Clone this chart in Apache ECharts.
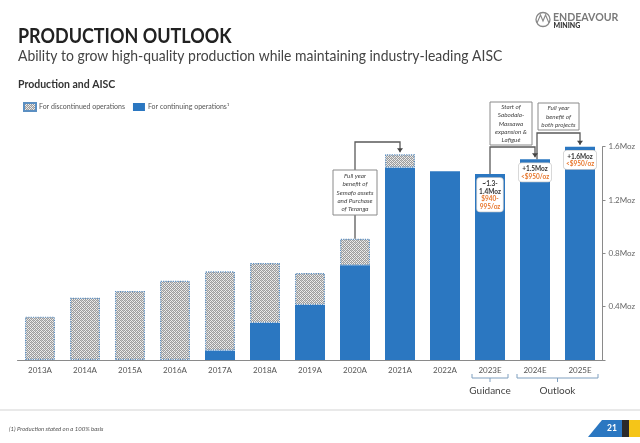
<!DOCTYPE html>
<html>
<head>
<meta charset="utf-8">
<script src="https://cdn.jsdelivr.net/npm/echarts@6/dist/echarts.min.js"></script>
<style>
html,body{margin:0;padding:0;background:#fff;}
#c{width:640px;height:443px;}
</style>
</head>
<body>
<div id="c"></div>
<script>
// ---- data ----
const categories = ['2013A','2014A','2015A','2016A','2017A','2018A','2019A','2020A','2021A','2022A','2023E','2024E','2025E'];
const continuing = [0,0,0,0,0.07,0.278,0.413,0.71,1.443,1.415,1.395,1.505,1.6];
const discontinued = [0.325,0.467,0.518,0.595,0.595,0.45,0.24,0.2,0.1,0,0,0,0];
const yTickValues = [0, 0.4, 0.8, 1.2, 1.6];
const labelCats = ['2023E','2024E','2025E'];
const labelProd = ['~1.3-\n1.4Moz','+1.5Moz','+1.6Moz'];
const labelAisc = ['$940-\n995/oz','<$950/oz','<$950/oz'];
const seriesNames = ['For discontinued operations','For continuing operations\u00B9'];

const FONT = 'Lato, "Open Sans", sans-serif';
const BLUE = '#2b77c1';

// hatch pattern (fine grey weave)
const pc = document.createElement('canvas');
pc.width = 4; pc.height = 4;
const px = pc.getContext('2d');
px.fillStyle = '#ececec'; px.fillRect(0,0,4,4);
px.fillStyle = '#9c9c9c';
for (let y = 0; y < 4; y++) for (let x = 0; x < 4; x++) { if ((x + y) % 2 === 0) px.fillRect(x, y, 1, 1); }
px.fillStyle = '#c4c4c4';
px.fillRect(1,0,1,1); px.fillRect(3,2,1,1);
const hatch = {image: pc, repeat: 'repeat'};

const chart = echarts.init(document.getElementById('c'), null, {renderer:'canvas'});

const contData = continuing.map((v,i)=>{
  if (v === 0) return '-';
  const k = labelCats.indexOf(categories[i]);
  if (k < 0) return v;
  return {
    value: v,
    label: {
      show: true, position: 'insideTop', distance: 4,
      formatter: '{a|' + labelProd[k] + '}\n{b|' + labelAisc[k] + '}',
      backgroundColor: '#ffffff', borderColor: '#d0d0d0', borderWidth: 0.8, borderRadius: 3,
      padding: [2, 2, 1, 2], align: 'center',
      rich: {
        a: {fontFamily: FONT, fontSize: 6.5, fontWeight: 'bold', color: '#333', lineHeight: 7.6, align: 'center'},
        b: {fontFamily: FONT, fontSize: 6.5, fontWeight: 'bold', color: '#e8782e', lineHeight: 7.6, align: 'center'}
      }
    }
  };
});
const discData = discontinued.map(v => v === 0 ? '-' : v);

const option = {
  animation: false,
  backgroundColor: '#ffffff',
  textStyle: {fontFamily: FONT},
  legend: {
    left: 18, top: 97, itemWidth: 12, itemHeight: 8, itemGap: 8,
    icon: 'rect',
    textStyle: {fontSize: 7, color: '#555', fontFamily: FONT, padding: [0,0,0,-2]},
    data: seriesNames
  },
  grid: {left: 17.5, right: 37.5, top: 146.7, bottom: 83, containLabel: false},
  xAxis: {
    type: 'category', data: categories,
    axisLine: {show: true, lineStyle: {color: '#8a8a8a', width: 1}},
    axisTick: {show: false},
    axisLabel: {fontSize: 8, color: '#555', margin: 6, fontFamily: FONT}
  },
  yAxis: {
    type: 'value', position: 'right', min: 0, max: 1.6, interval: 0.4,
    axisLine: {show: true, lineStyle: {color: '#8a8a8a', width: 1}},
    axisTick: {show: true, length: 3, lineStyle: {color: '#8a8a8a'}},
    splitLine: {show: false},
    axisLabel: {
      fontSize: 8, color: '#666', margin: 6, fontFamily: FONT,
      formatter: v => (yTickValues.indexOf(v) > 0 ? v.toFixed(1) + 'Moz' : '')
    }
  },
  series: [
    {
      name: seriesNames[1], type: 'bar', stack: 'p', barWidth: 30,
      itemStyle: {color: BLUE},
      data: contData
    },
    {
      name: seriesNames[0], type: 'bar', stack: 'p', barWidth: 30,
      itemStyle: {color: hatch, borderColor: '#5b8fc2', borderWidth: 1.2, borderType: 'dotted'},
      data: discData
    }
  ]
};
chart.setOption(option);

// ---- annotations positioned via the chart's own scales ----
function cx(cat){ return chart.convertToPixel({xAxisIndex:0}, cat); }
function vy(v){ return chart.convertToPixel({yAxisIndex:0}, v); }
function total(cat){ const i = categories.indexOf(cat); return continuing[i] + discontinued[i]; }

const LINE = {stroke: '#5a5a5a', lineWidth: 1.3, fill: null};
const g = [];

function arrowHead(x, y){
  g.push({type:'polygon', shape:{points:[[x-3,y-4],[x+3,y-4],[x,y]]}, style:{fill:'#444'}, z: 20});
}
function connector(fromCat, toCat, yLevel, dx1, dx2){
  const x1 = cx(fromCat) + (dx1||0), x2 = cx(toCat) + (dx2||0);
  const y1 = vy(total(fromCat)), y2 = vy(total(toCat));
  g.push({type:'polyline', shape:{points:[[x1,y1],[x1,yLevel],[x2,yLevel],[x2,y2-2]]}, style: LINE, z: 18});
  arrowHead(x2, y2-2);
}
function callout(x, y, w, h, lines){
  g.push({type:'rect', shape:{x:x, y:y, width:w, height:h}, style:{fill:'#fff', stroke:'#8a8a8a', lineWidth:1}, z: 21});
  g.push({type:'text', x: x + w/2, y: y + h/2, z: 22, style:{
    text: lines.join('\n'), fontFamily: FONT, fontSize: 6.3, fontStyle: 'italic',
    fill: '#444', align:'center', verticalAlign:'middle', lineHeight: 8.3
  }});
}

connector('2020A','2021A', 142);
connector('2023E','2024E', 147);
connector('2024E','2025E', 133, 2, 0);

callout(cx('2020A')-22, 170, 44, 45, ['Full year','benefit of','Semafo assets','and Purchase','of Teranga']);
callout(cx('2023E'), 102, 42, 43, ['Start of','Sabodala-','Massawa','expansion &','Lafigué']);
callout(cx('2024E')+3, 103, 41, 27, ['Full year','benefit of','both projects']);

// brackets under axis
function bracket(c1, c2, label){
  const x1 = cx(c1) - 18, x2 = cx(c2) + 18, xm = (x1 + x2)/2, y = 374;
  g.push({type:'polyline', shape:{points:[[x1,y],[x1,y+4],[x2,y+4],[x2,y]]}, style:{stroke:'#7f9fbf', lineWidth:1, fill:null}});
  g.push({type:'line', shape:{x1:xm, y1:y+4, x2:xm, y2:y+8}, style:{stroke:'#7f9fbf', lineWidth:1}});
  g.push({type:'text', x: xm, y: 391, style:{text: label, fontFamily: FONT, fontSize: 10, fill:'#444', align:'center', verticalAlign:'middle'}});
}
bracket('2023E','2023E','Guidance');
bracket('2024E','2025E','Outlook');

// headings
g.push({type:'text', x: 18, y: 36, scaleX: 0.855, style:{text:'PRODUCTION OUTLOOK', fontFamily: FONT, fontWeight:'bold', fontSize: 21, fill:'#222', verticalAlign:'middle'}});
g.push({type:'text', x: 18, y: 56, scaleX: 0.93, style:{text:'Ability to grow high-quality production while maintaining industry-leading AISC', fontFamily: FONT, fontSize: 15, fill:'#444', verticalAlign:'middle'}});
g.push({type:'text', x: 18, y: 85, style:{text:'Production and AISC', fontFamily: FONT, fontWeight:'bold', fontSize: 10.5, fill:'#333', verticalAlign:'middle'}});

// logo
g.push({type:'circle', shape:{cx:543, cy:19.5, r:7}, style:{fill:null, stroke:'#888', lineWidth:1.3}});
g.push({type:'polyline', shape:{points:[[537,23],[540.5,15],[543,21],[545.5,15],[549,23]]}, style:{stroke:'#888', lineWidth:1.1, fill:null}});
g.push({type:'text', x: 553, y: 17, scaleX: 0.92, style:{text:'ENDEAVOUR', fontFamily: FONT, fontWeight:'bold', fontSize: 11.5, fill:'#7a7a7a', verticalAlign:'middle'}});
g.push({type:'text', x: 553.5, y: 25.5, style:{text:'MINING', fontFamily: FONT, fontWeight:'900', fontSize: 7, fill:'#333', verticalAlign:'middle'}});

// footer
g.push({type:'line', shape:{x1:0, y1:410, x2:640, y2:410}, style:{stroke:'#e2e2e2', lineWidth:1.5}});
g.push({type:'text', x: 9, y: 429, style:{text:'(1) Production stated on a 100% basis', fontFamily: FONT, fontStyle:'italic', fontSize: 6, fill:'#555', verticalAlign:'middle'}});
g.push({type:'polygon', shape:{points:[[588,437],[602,420],[622,420],[622,437]]}, style:{fill:'#2b77c1'}});
g.push({type:'rect', shape:{x:622, y:420, width:7, height:17}, style:{fill:'#2a2a2a'}});
g.push({type:'rect', shape:{x:629, y:420, width:11, height:17}, style:{fill:'#f5c518'}});
g.push({type:'text', x: 612, y: 428.5, style:{text:'21', fontFamily: FONT, fontWeight:'bold', fontSize: 8.5, fill:'#fff', align:'center', verticalAlign:'middle'}});

chart.setOption({graphic: g});
</script>
</body>
</html>
